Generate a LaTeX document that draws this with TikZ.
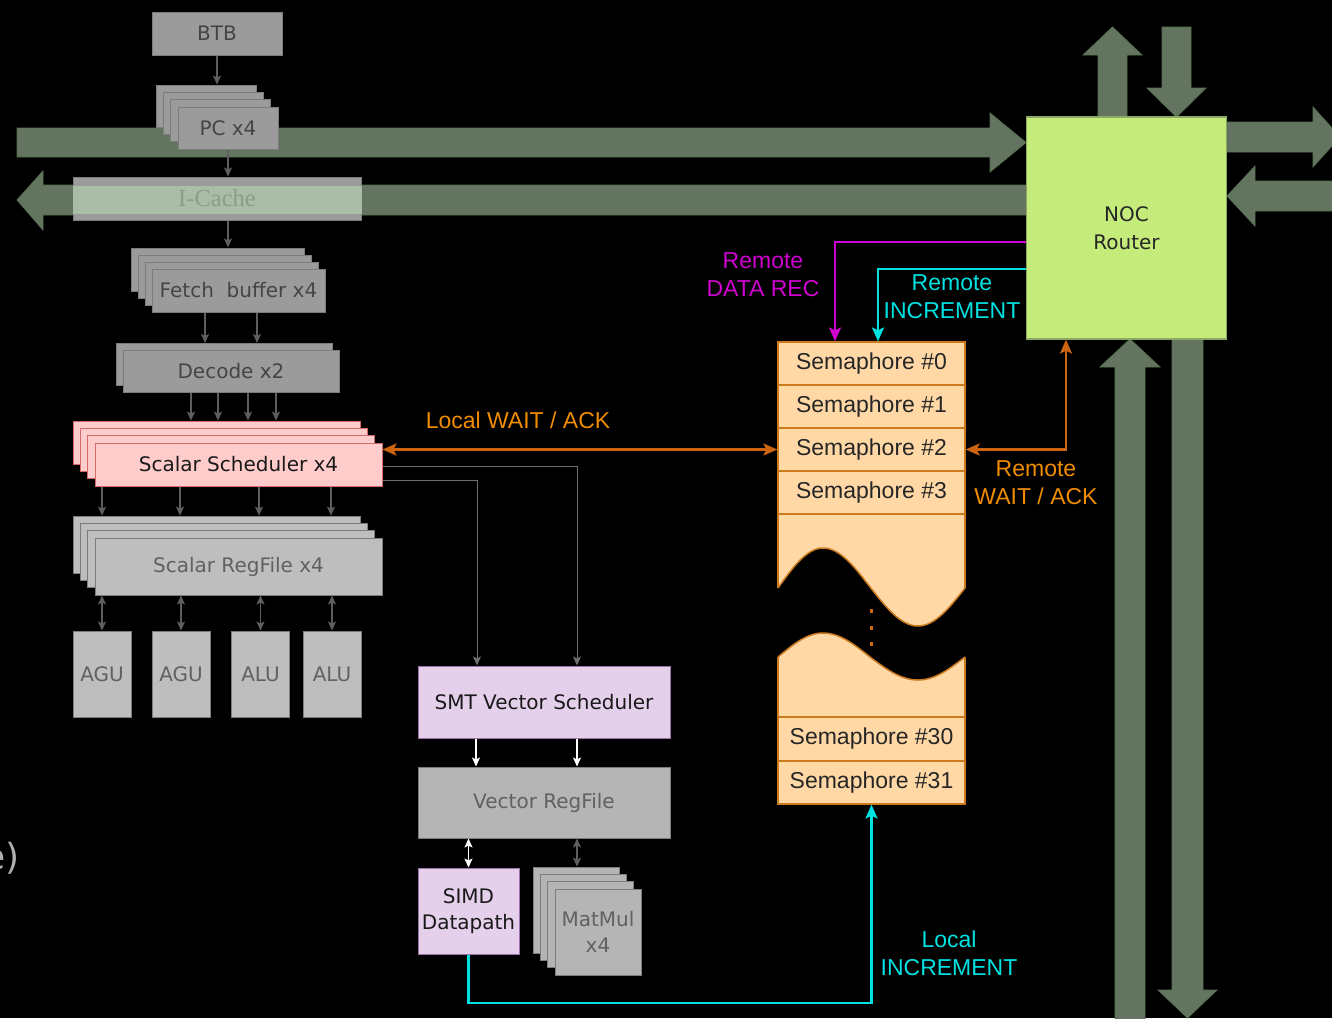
\documentclass[tikz,border=0pt]{standalone}
\usepackage{fontspec}
\usetikzlibrary{arrows.meta}
\newfontfamily\tahoma{DejaVu Sans}
\newfontfamily\helv{Liberation Sans}
\newfontfamily\tnr{Liberation Serif}

\definecolor{busfill}{HTML}{637560}
\definecolor{busedge}{HTML}{56704E}
\definecolor{boxdark}{HTML}{9B9B9B}
\definecolor{boxmid}{HTML}{B5B5B5}
\definecolor{boxlight}{HTML}{BEBEBE}
\definecolor{boxedge}{HTML}{7C7C7C}
\definecolor{boxtext}{HTML}{454545}
\definecolor{pinkfill}{HTML}{FFCCCC}
\definecolor{pinkedge}{HTML}{D36A6A}
\definecolor{lavfill}{HTML}{E4D0EA}
\definecolor{lavedge}{HTML}{9A72A8}
\definecolor{semfill}{HTML}{FFD8A6}
\definecolor{semedge}{HTML}{CC7A1E}
\definecolor{nocfill}{HTML}{C5EB7A}
\definecolor{nocedge}{HTML}{8CA862}
\definecolor{magline}{HTML}{D000D0}
\definecolor{cyanline}{HTML}{00E2E2}
\definecolor{orgline}{HTML}{CC6410}
\definecolor{orgtext}{HTML}{F08C00}
\definecolor{arrgray}{HTML}{5E5E5E}
\definecolor{icband}{HTML}{AABDA7}
\definecolor{ictext}{HTML}{8E9C8B}

\tikzset{
  gbox/.style={draw=boxedge, line width=1pt, fill=boxdark, text=boxtext, inner sep=0pt,
    font=\tahoma\fontsize{20}{26}\selectfont, align=center},
  lbox/.style={gbox, fill=boxlight, text=boxtext!85},
  mbox/.style={gbox, fill=boxmid, text=boxtext!85},
  pbox/.style={gbox, draw=pinkedge, fill=pinkfill, text=black!90},
  vbox/.style={gbox, draw=lavedge, fill=lavfill, text=black!90},
  sem/.style={draw=semedge, line width=1.2pt, fill=semfill, minimum width=187pt, minimum height=43pt,
    inner sep=0pt, text=black!85, font=\helv\fontsize{23}{27}\selectfont},
  lbl/.style={font=\helv\fontsize{23}{28}\selectfont, align=center},
  bus/.style={fill=busfill, draw=busedge, line width=0.8pt},
  arr/.style={draw=arrgray, line width=1.3pt, -{Stealth[length=9pt,width=8pt,inset=2pt]}},
  darr/.style={arr, {Stealth[length=9pt,width=8pt,inset=2pt]}-{Stealth[length=9pt,width=8pt,inset=2pt]}},
  warr/.style={arr, draw=white},
  wdarr/.style={darr, draw=white},
  carr/.style={line width=2.4pt, -{Stealth[length=14pt,width=12pt,inset=3pt]}},
  cdarr/.style={carr, {Stealth[length=14pt,width=12pt,inset=3pt]}-{Stealth[length=14pt,width=12pt,inset=3pt]}}
}

\begin{document}
\begin{tikzpicture}[x=1pt,y=-1pt]
\fill[black] (0,0) rectangle (1332,1018);
\useasboundingbox (0,0) rectangle (1332,1018);

% NoC buses
\filldraw[bus] (17,128) -- (990,128) -- (990,113) -- (1026,142.5) -- (990,172) -- (990,157) -- (17,157) -- cycle;
\filldraw[bus] (1027,185) -- (43,185) -- (43,171) -- (17,200) -- (43,230) -- (43,215) -- (1027,215) -- cycle;
\filldraw[bus] (1098,117) -- (1098,55) -- (1083,55) -- (1112.5,27) -- (1142,55) -- (1127,55) -- (1127,117) -- cycle;
\filldraw[bus] (1162,27) -- (1191,27) -- (1191,88) -- (1206,88) -- (1176.5,117) -- (1147,88) -- (1162,88) -- cycle;
\filldraw[bus] (1227,122) -- (1313,122) -- (1313,107) -- (1340,137) -- (1313,167) -- (1313,152) -- (1227,152) -- cycle;
\filldraw[bus] (1340,181) -- (1255,181) -- (1255,166) -- (1227,196) -- (1255,226) -- (1255,211) -- (1340,211) -- cycle;
\filldraw[bus] (1115,1030) -- (1115,367) -- (1100,367) -- (1130,339) -- (1160,367) -- (1145,367) -- (1145,1030) -- cycle;
\filldraw[bus] (1172,339) -- (1203,339) -- (1203,990) -- (1217,990) -- (1187.5,1018) -- (1158,990) -- (1172,990) -- cycle;

% front end
\node[gbox, minimum width=130pt, minimum height=43pt] (btb) at (217,33.5) {BTB};
\foreach \i in {3,2,1}
  \node[gbox, minimum width=100pt, minimum height=42pt] (pc\i) at (228-7.3*\i,128-7.3*\i) {};
\node[gbox, minimum width=100pt, minimum height=42pt] (pc) at (228,128) {PC x4};

\node[gbox, minimum width=288pt, minimum height=43pt] (icache) at (217,198.5) {};
\fill[icband] (icache.west |- 0,186) rectangle (icache.east |- 0,214);
\node[font=\tnr\fontsize{24.5}{28}\selectfont, text=ictext] at (icache.center) {I-Cache};

\foreach \i in {3,2,1}
  \node[gbox, minimum width=173pt, minimum height=43pt] (fb\i) at (238.5-7*\i,290.5-7*\i) {};
\node[gbox, minimum width=173pt, minimum height=43pt] (fb) at (238.5,290.5) {Fetch~ buffer x4};

\node[gbox, minimum width=216pt, minimum height=42pt] (dec1) at (224.5,364.5) {};
\node[gbox, minimum width=216pt, minimum height=42pt] (dec) at (231,371) {Decode x2};

% scalar pipes
\foreach \i in {3,2,1}
  \node[pbox, minimum width=287pt, minimum height=43pt] (sch\i) at (238.5-7.3*\i,464.5-7.3*\i) {};
\node[pbox, minimum width=287pt, minimum height=43pt] (sch) at (238.5,464.5) {Scalar Scheduler x4};

\foreach \i in {3,2,1}
  \node[lbox, minimum width=287pt, minimum height=57pt] (rf\i) at (238.5-7.3*\i,566.5-7.3*\i) {};
\node[lbox, minimum width=287pt, minimum height=57pt] (rf) at (238.5,566.5) {Scalar RegFile x4};

\foreach \n/\x/\t in {agu1/102/AGU, agu2/181/AGU, alu1/260.5/ALU, alu2/332/ALU}
  \node[lbox, minimum width=58pt, minimum height=86pt] (\n) at (\x,674) {\t};

% vector pipe
\node[vbox, minimum width=252pt, minimum height=72pt] (smt) at (544,702) {SMT Vector Scheduler};
\node[mbox, minimum width=252pt, minimum height=71pt] (vrf) at (544,802.5) {Vector RegFile};
\node[vbox, minimum width=101pt, minimum height=86pt] (simd) at (468.5,911) {SIMD\\Datapath};
\foreach \i in {3,2,1}
  \node[mbox, minimum width=86pt, minimum height=86pt] (mm\i) at (598-7.3*\i,932-7.3*\i) {};
\node[mbox, minimum width=86pt, minimum height=86pt] (mm) at (598,932) {MatMul\\x4};

% router and semaphores
\node[draw=nocedge, line width=1.2pt, fill=nocfill, minimum width=200pt, minimum height=222pt,
  font=\tahoma\fontsize{20}{28}\selectfont, align=center, text=black!85] (noc) at (1126.5,228) {NOC\\Router};

\node[sem] (sem0) at (871.5,363.5) {Semaphore \#0};
\node[sem] (sem1) at (871.5,406.5) {Semaphore \#1};
\node[sem] (sem2) at (871.5,449.5) {Semaphore \#2};
\node[sem] (sem3) at (871.5,492.5) {Semaphore \#3};
\node[sem, minimum height=203pt] (semgap) at (871.5,615.5) {};
\node[sem, minimum height=44pt] (sem30) at (871.5,739) {Semaphore \#30};
\node[sem] (sem31) at (871.5,782.5) {Semaphore \#31};

% cut in the semaphore list
\fill[black] (776,588) -- (778,588) sin (823,548) cos (870,587) sin (918,626) cos (965,588) -- (967,588)
  -- (967,657) -- (965,657) sin (918,680) cos (870,657) sin (823,633) cos (778,657) -- (776,657) -- cycle;
\draw[semedge, line width=1.5pt] (778,588) sin (823,548) cos (870,587) sin (918,626) cos (965,588);
\draw[semedge, line width=1.5pt] (778,657) sin (823,633) cos (870,657) sin (918,680) cos (965,657);
\foreach \y in {611,628,644}
  \fill[orgline] (869.5,\y-1.8) rectangle +(3.6,3.6);

% front end arrows
\draw[arr] (btb.south) -- (btb.south |- pc3.north);
\draw[arr] (pc.south) -- (pc.south |- icache.north);
\draw[arr] (pc.south |- icache.south) -- (pc.south |- fb3.north);
\foreach \x in {205,257}
  \draw[arr] (fb.south -| \x,0) -- (dec1.north -| \x,0);
\foreach \x in {191,218,248,276}
  \draw[arr] (dec.south -| \x,0) -- (sch3.north -| \x,0);
\foreach \x in {102,180,259,331}
  \draw[arr] (sch.south -| \x,0) -- (rf3.north -| \x,0);
\foreach \n in {agu1,agu2,alu1,alu2}
  \draw[darr] (\n.north |- rf.south) -- (\n.north);

% scalar to vector
\draw[arr, line width=1pt, draw=arrgray!90!white] (sch.east |- 0,466) -| (smt.north -| 577,0);
\draw[arr, line width=1pt, draw=arrgray!90!white] (sch.east |- 0,480) -| (smt.north -| 477,0);
\foreach \x in {476,577}
  \draw[warr] (smt.south -| \x,0) -- (vrf.north -| \x,0);
\draw[wdarr] (simd.north) -- (simd.north |- vrf.south);
\draw[darr] (vrf.south -| 577,0) -- (mm3.north -| 577,0);

% semaphore traffic
\draw[carr, draw=magline] (noc.west |- 0,242) -| (sem0.north -| 835,0);
\draw[carr, draw=cyanline] (noc.west |- 0,269) -| (sem0.north -| 878,0);
\draw[cdarr, draw=orgline] (sch.east |- sem2.west) -- (sem2.west);
\draw[cdarr, draw=orgline] (sem2.east) -| (noc.south -| 1066,0);
\draw[carr, draw=cyanline] (simd.south) -- (simd.south |- 0,1003) -| (sem31.south);

\node[lbl, text=magline] (lremdata) at (763,275) {Remote\\DATA REC};
\node[lbl, text=cyanline] (lreminc) at (952,297) {Remote\\INCREMENT};
\node[lbl, text=orgtext] (llocwait) at (518,420) {Local WAIT / ACK};
\node[lbl, text=orgtext] (lremwait) at (1036,483) {Remote\\WAIT / ACK};
\node[lbl, text=cyanline] (llocinc) at (949,953) {Local\\INCREMENT};

\node[anchor=east, text=boxdark!80!white, font=\tahoma\fontsize{36}{40}\selectfont] (frag) at (23,858) {e)};
\end{tikzpicture}
\end{document}
